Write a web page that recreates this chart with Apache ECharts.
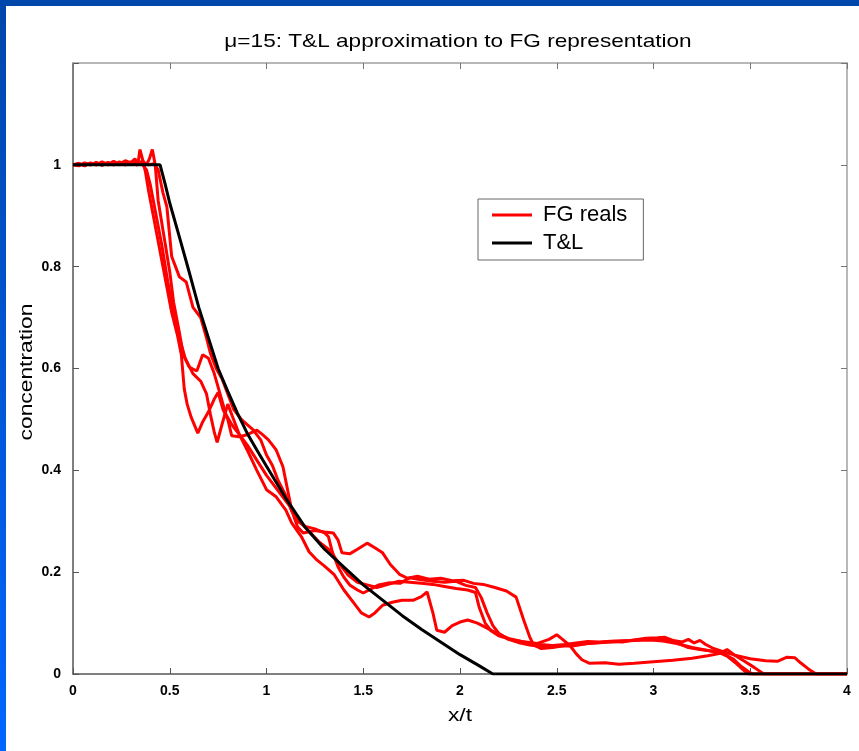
<!DOCTYPE html>
<html>
<head>
<meta charset="utf-8">
<title>T&amp;L approximation to FG representation</title>
<script src="https://cdn.jsdelivr.net/npm/echarts@6/dist/echarts.min.js"></script>
<style>
  html, body { margin: 0; padding: 0; background: #ffffff; }
  #chart { width: 859px; height: 751px; }
</style>
</head>
<body>
<div id="chart"></div>
<script>
// Axis ticks
const xTicks = [0, 0.5, 1, 1.5, 2, 2.5, 3, 3.5, 4];
const yTicks = [0, 0.2, 0.4, 0.6, 0.8, 1, 1.2];

// T&L approximation: [x/t, concentration]
const tlCurve = [
  [0, 1], [0.45, 1], [0.475, 0.964], [0.5, 0.925], [0.55, 0.858], [0.6, 0.79],
  [0.65, 0.72], [0.7, 0.66], [0.75, 0.6], [0.8, 0.555], [0.85, 0.512], [0.9, 0.473],
  [0.95, 0.44], [1.0, 0.408], [1.1, 0.345], [1.2, 0.288], [1.3, 0.245], [1.4, 0.21],
  [1.5, 0.175], [1.6, 0.145], [1.7, 0.115], [1.8, 0.088], [1.9, 0.063], [2.0, 0.038],
  [2.1, 0.016], [2.17, 0], [4, 0]
];

// FG realisations: [x/t, concentration]
const fgReal1 = [
  [0, 1], [0.03, 1.003], [0.06, 0.998], [0.09, 1.004], [0.12, 1.0], [0.15, 1.006], [0.18, 1.0],
  [0.21, 1.005], [0.24, 1.002], [0.27, 1.008], [0.3, 1.004], [0.32, 1.012], [0.335, 1.0],
  [0.346, 1.03], [0.36, 1.01], [0.375, 0.985], [0.39, 0.95], [0.42, 0.89], [0.45, 0.83],
  [0.48, 0.77], [0.51, 0.71], [0.54, 0.665], [0.56, 0.627], [0.575, 0.56], [0.59, 0.53],
  [0.61, 0.505], [0.645, 0.473], [0.67, 0.495], [0.7, 0.515], [0.73, 0.54], [0.75, 0.553],
  [0.775, 0.52], [0.8, 0.5], [0.82, 0.468], [0.86, 0.466], [0.9, 0.47], [0.95, 0.479],
  [0.98, 0.47], [1.01, 0.46], [1.05, 0.44], [1.085, 0.407], [1.11, 0.36], [1.13, 0.322],
  [1.16, 0.289], [1.19, 0.277], [1.25, 0.282], [1.3, 0.279], [1.345, 0.277], [1.37, 0.263],
  [1.39, 0.238], [1.43, 0.236], [1.47, 0.245], [1.52, 0.257], [1.56, 0.248], [1.6, 0.238],
  [1.64, 0.215], [1.69, 0.195], [1.73, 0.188], [1.78, 0.192], [1.84, 0.186], [1.9, 0.188],
  [1.96, 0.183], [2.02, 0.184], [2.07, 0.178], [2.12, 0.176], [2.18, 0.17], [2.24, 0.163],
  [2.29, 0.151], [2.33, 0.105], [2.36, 0.073], [2.38, 0.057], [2.42, 0.05], [2.48, 0.052],
  [2.54, 0.056], [2.6, 0.058], [2.66, 0.06], [2.72, 0.062], [2.78, 0.064], [2.84, 0.063],
  [2.9, 0.067], [2.96, 0.07], [3.02, 0.071], [3.06, 0.072], [3.1, 0.066], [3.14, 0.058],
  [3.18, 0.052], [3.24, 0.048], [3.3, 0.045], [3.36, 0.04], [3.41, 0.03], [3.45, 0.016],
  [3.49, 0.005], [3.51, 0], [4, 0]
];

const fgReal2 = [
  [0, 1], [0.03, 0.998], [0.06, 1.004], [0.09, 1.0], [0.12, 1.005], [0.15, 0.999], [0.18, 1.004],
  [0.21, 1.0], [0.24, 1.006], [0.27, 1.0], [0.3, 1.006], [0.33, 1.0], [0.36, 1.008], [0.38, 1.0],
  [0.395, 1.012], [0.41, 1.03], [0.425, 1.0], [0.44, 0.93], [0.47, 0.86], [0.5, 0.79],
  [0.52, 0.73], [0.55, 0.67], [0.57, 0.627], [0.6, 0.603], [0.64, 0.595], [0.67, 0.627],
  [0.7, 0.62], [0.73, 0.59], [0.76, 0.55], [0.79, 0.51], [0.82, 0.49], [0.86, 0.47],
  [0.9, 0.44], [0.95, 0.4], [1.0, 0.362], [1.05, 0.348], [1.1, 0.322], [1.13, 0.297],
  [1.18, 0.27], [1.22, 0.24], [1.26, 0.224], [1.3, 0.212], [1.35, 0.195], [1.4, 0.165],
  [1.45, 0.14], [1.49, 0.12], [1.53, 0.112], [1.56, 0.12], [1.6, 0.135], [1.65, 0.141],
  [1.7, 0.145], [1.76, 0.145], [1.8, 0.152], [1.83, 0.161], [1.86, 0.12], [1.88, 0.086],
  [1.92, 0.082], [1.96, 0.095], [2.0, 0.102], [2.04, 0.106], [2.09, 0.1], [2.14, 0.09],
  [2.19, 0.08], [2.25, 0.07], [2.32, 0.064], [2.4, 0.06], [2.46, 0.068], [2.5, 0.077],
  [2.53, 0.068], [2.57, 0.055], [2.6, 0.04], [2.63, 0.028], [2.67, 0.021], [2.75, 0.022],
  [2.82, 0.019], [2.9, 0.021], [3.0, 0.024], [3.1, 0.027], [3.2, 0.031], [3.28, 0.036],
  [3.34, 0.04], [3.38, 0.048], [3.42, 0.037], [3.47, 0.025], [3.52, 0.013], [3.57, 0], [4, 0]
];

const fgReal3 = [
  [0, 1], [0.03, 1.002], [0.06, 0.999], [0.09, 1.003], [0.12, 1.0], [0.15, 1.004], [0.18, 1.001],
  [0.21, 1.007], [0.24, 1.0], [0.27, 1.004], [0.3, 1.001], [0.33, 1.006], [0.36, 1.0],
  [0.38, 0.99], [0.4, 0.96], [0.43, 0.9], [0.46, 0.84], [0.49, 0.77], [0.52, 0.71],
  [0.55, 0.66], [0.58, 0.62], [0.62, 0.59], [0.66, 0.575], [0.69, 0.55], [0.71, 0.51],
  [0.73, 0.475], [0.745, 0.455], [0.77, 0.49], [0.8, 0.53], [0.83, 0.5], [0.86, 0.47],
  [0.9, 0.45], [0.95, 0.42], [1.0, 0.39], [1.04, 0.37], [1.08, 0.35], [1.12, 0.33],
  [1.16, 0.3], [1.2, 0.29], [1.25, 0.285], [1.3, 0.277], [1.32, 0.27], [1.34, 0.24],
  [1.37, 0.21], [1.4, 0.19], [1.43, 0.175], [1.47, 0.165], [1.5, 0.159], [1.53, 0.165],
  [1.58, 0.175], [1.63, 0.179], [1.69, 0.178], [1.74, 0.189], [1.8, 0.185], [1.86, 0.182],
  [1.92, 0.18], [1.98, 0.182], [2.03, 0.174], [2.08, 0.17], [2.11, 0.15], [2.14, 0.12],
  [2.17, 0.095], [2.2, 0.08], [2.25, 0.068], [2.3, 0.062], [2.36, 0.057], [2.42, 0.054],
  [2.48, 0.056], [2.54, 0.058], [2.6, 0.061], [2.66, 0.064], [2.72, 0.063], [2.8, 0.065],
  [2.88, 0.066], [2.96, 0.068], [3.04, 0.068], [3.1, 0.066], [3.15, 0.063], [3.18, 0.068],
  [3.21, 0.061], [3.24, 0.066], [3.27, 0.058], [3.31, 0.05], [3.36, 0.044], [3.42, 0.037],
  [3.5, 0.03], [3.58, 0.026], [3.64, 0.025], [3.69, 0.033], [3.73, 0.032], [3.76, 0.022],
  [3.8, 0.01], [3.84, 0], [4, 0]
];

const fgReal4 = [
  [0, 1], [0.03, 0.999], [0.06, 1.003], [0.09, 1.0], [0.12, 1.004], [0.15, 1.0], [0.18, 1.005],
  [0.21, 1.0], [0.24, 1.003], [0.27, 1.0], [0.3, 1.005], [0.33, 1.0], [0.36, 1.004], [0.39, 1.0],
  [0.42, 1.002], [0.44, 0.99], [0.465, 0.945], [0.485, 0.918], [0.51, 0.82], [0.55, 0.78],
  [0.585, 0.77], [0.62, 0.72], [0.66, 0.7], [0.69, 0.66], [0.71, 0.63], [0.74, 0.6],
  [0.77, 0.58], [0.8, 0.55], [0.83, 0.52], [0.87, 0.5], [0.9, 0.49], [0.93, 0.48],
  [0.97, 0.46], [1.0, 0.43], [1.03, 0.41], [1.06, 0.38], [1.1, 0.35], [1.13, 0.32],
  [1.17, 0.3], [1.22, 0.28], [1.27, 0.26], [1.32, 0.245], [1.37, 0.22], [1.42, 0.195],
  [1.47, 0.18], [1.52, 0.175], [1.57, 0.17], [1.62, 0.175], [1.68, 0.182], [1.74, 0.18],
  [1.8, 0.178], [1.86, 0.176], [1.92, 0.172], [1.98, 0.168], [2.04, 0.165], [2.08, 0.16],
  [2.1, 0.13], [2.13, 0.1], [2.16, 0.085], [2.2, 0.075], [2.26, 0.068], [2.34, 0.062],
  [2.42, 0.058], [2.5, 0.055], [2.58, 0.055], [2.66, 0.06], [2.74, 0.062], [2.82, 0.064],
  [2.9, 0.066], [2.98, 0.067], [3.05, 0.065], [3.12, 0.06], [3.2, 0.052], [3.28, 0.046],
  [3.34, 0.042], [3.38, 0.035], [3.43, 0.02], [3.47, 0.006], [3.49, 0], [4, 0]
];

const fgSeriesData = [fgReal1, fgReal2, fgReal3, fgReal4];

const chart = echarts.init(document.getElementById('chart'), null, { renderer: 'canvas' });

const tickFont = { color: '#000', fontSize: 14, fontWeight: 'bold', fontFamily: '"Liberation Sans", Arial, sans-serif' };
const nameFont = '19px "Liberation Sans", Arial, sans-serif';

function fmt(v) {
  return String(+v.toFixed(2));
}

// Mirror axes on the top and right close the box; ticks only, no labels
const frameAxis = (position, isX) => ({
  type: 'value',
  position: position,
  min: isX ? xTicks[0] : yTicks[0],
  max: isX ? xTicks[xTicks.length - 1] : yTicks[yTicks.length - 1],
  interval: isX ? 0.5 : 0.2,
  axisLine: { show: true, onZero: false, lineStyle: { color: '#a0a0a0', width: 1.5 } },
  axisTick: { show: true, inside: true, length: 6, lineStyle: { color: '#777', width: 1 } },
  axisLabel: { show: false },
  splitLine: { show: false }
});

const series = fgSeriesData.map(d => ({
  name: 'FG reals',
  type: 'line',
  data: d,
  showSymbol: false,
  symbol: 'none',
  lineStyle: { color: '#ff0000', width: 3 },
  itemStyle: { color: '#ff0000' },
  z: 3,
  animation: false
}));
series.push({
  name: 'T&L',
  type: 'line',
  data: tlCurve,
  showSymbol: false,
  symbol: 'none',
  lineStyle: { color: '#000000', width: 3 },
  itemStyle: { color: '#000000' },
  z: 4,
  animation: false
});

chart.setOption({
  animation: false,
  backgroundColor: '#ffffff',
  grid: { left: 73, right: 12, top: 63, bottom: 77, containLabel: false },
  xAxis: [
    {
      type: 'value',
      position: 'bottom',
      min: xTicks[0],
      max: xTicks[xTicks.length - 1],
      interval: 0.5,
      axisLine: { show: true, onZero: false, lineStyle: { color: '#555', width: 1.5 } },
      axisTick: { show: true, inside: true, length: 6, lineStyle: { color: '#555', width: 1 } },
      axisLabel: Object.assign({ margin: 10, formatter: fmt }, tickFont),
      splitLine: { show: false }
    },
    frameAxis('top', true)
  ],
  yAxis: [
    {
      type: 'value',
      position: 'left',
      min: yTicks[0],
      max: yTicks[yTicks.length - 1],
      interval: 0.2,
      axisLine: { show: true, onZero: false, lineStyle: { color: '#555', width: 1.5 } },
      axisTick: { show: true, inside: true, length: 6, lineStyle: { color: '#555', width: 1 } },
      axisLabel: Object.assign({
        margin: 12,
        formatter: v => (v > 1.1 ? '' : fmt(v))
      }, tickFont),
      splitLine: { show: false }
    },
    frameAxis('right', false)
  ],
  legend: {
    data: ['FG reals', 'T&L'],
    orient: 'vertical',
    left: 478,
    top: 199,
    padding: [5, 16, 6, 14],
    itemGap: 6,
    itemWidth: 40,
    itemHeight: 3,
    icon: 'rect',
    borderColor: '#666',
    borderWidth: 1,
    backgroundColor: '#ffffff',
    selectedMode: false,
    textStyle: { color: '#000', fontSize: 22, fontFamily: '"Liberation Sans", Arial, sans-serif', padding: [0, 0, 0, 6] }
  },
  series: series,
  graphic: [
    {
      type: 'rect', left: 0, top: 0, z: 100,
      shape: { width: 859, height: 6 },
      style: { fill: '#0046ab' }
    },
    {
      type: 'rect', left: 0, top: 0, z: 100,
      shape: { width: 6, height: 751 },
      style: {
        fill: new echarts.graphic.LinearGradient(0, 0, 0, 1, [
          { offset: 0, color: '#0046ab' },
          { offset: 1, color: '#0066ff' }
        ])
      }
    },
    {
      type: 'text', x: 458, y: 42, scaleX: 1.19, z: 50,
      style: {
        text: 'μ=15: T&L approximation to FG representation',
        font: nameFont, fill: '#000',
        align: 'center', verticalAlign: 'middle', textAlign: 'center', textVerticalAlign: 'middle'
      }
    },
    {
      type: 'text', x: 460, y: 716, scaleX: 1.2, z: 50,
      style: {
        text: 'x/t',
        font: nameFont, fill: '#000',
        align: 'center', verticalAlign: 'middle', textAlign: 'center', textVerticalAlign: 'middle'
      }
    },
    {
      type: 'text', x: 27, y: 372, rotation: Math.PI / 2, scaleX: 1.2, z: 50,
      style: {
        text: 'concentration',
        font: nameFont, fill: '#000',
        align: 'center', verticalAlign: 'middle', textAlign: 'center', textVerticalAlign: 'middle'
      }
    }
  ]
});
</script>
</body>
</html>
